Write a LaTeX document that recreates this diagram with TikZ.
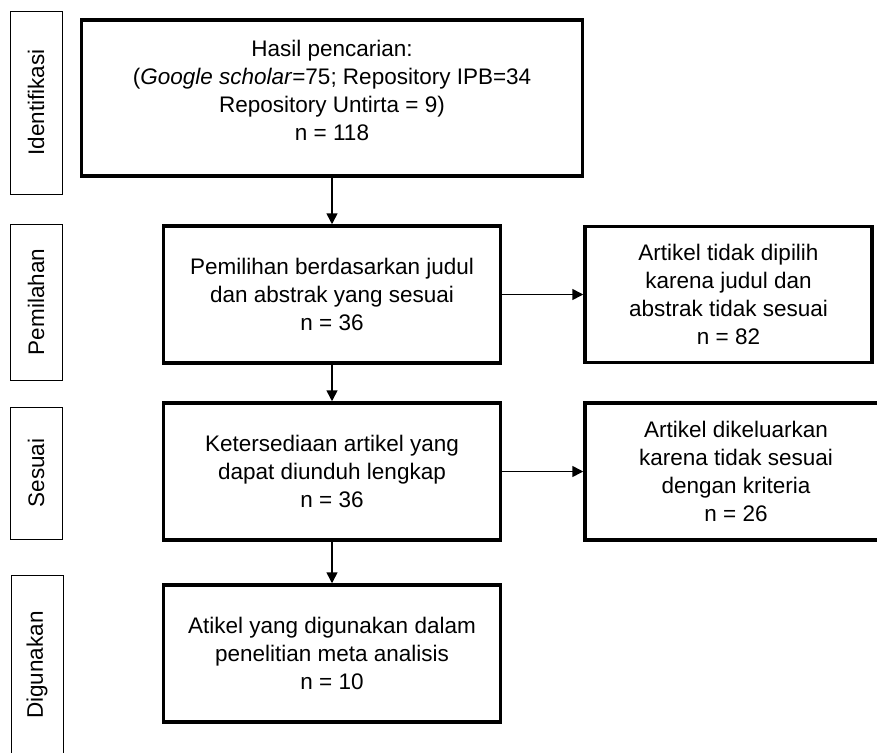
\documentclass[tikz,border=0pt]{standalone}
\usepackage{fontspec}
\setmainfont{Liberation Sans}
\usetikzlibrary{positioning,arrows.meta}

\tikzset{
    txt/.style={font=\fontsize{22.5}{28}\selectfont},
    tahap/.style={draw, line width=0.8pt, rotate=90, txt},
    kotak/.style={draw, line width=3.5pt, align=center, txt},
    panah/.style={-{Triangle[length=11pt,width=11pt]}, line width=1.6pt}
}

\begin{document}
\begin{tikzpicture}[x=1pt,y=-1pt]
    \useasboundingbox (0,0) rectangle (877,752);

    % tahapan
    \node[tahap, minimum width=183pt, minimum height=52pt] (t1) at (36,102.5){Identifikasi};
    \node[tahap, minimum width=156pt, minimum height=52pt] (t2) at (36,302){Pemilahan};
    \node[tahap, minimum width=132pt, minimum height=52pt] (t3) at (36,473){Sesuai};
    \node[tahap, minimum width=180pt, minimum height=52pt] (t4) at (37,665){Digunakan};

    % alur utama
    \node[kotak,
        minimum width=501pt,
        minimum height=156pt
    ] (hasil) at (332,98){Hasil pencarian:\\(\textit{Google scholar}=75; Repository IPB=34\\Repository Untirta = 9)\\n = 118\\[-12pt]};
    \node[kotak,
        minimum width=337pt,
        minimum height=137pt
    ] (pilih) at (332,294.5){Pemilihan berdasarkan judul\\dan abstrak yang sesuai\\n = 36};
    \node[kotak,
        minimum width=337pt,
        minimum height=137pt
    ] (sedia) at (332,471.5){Ketersediaan artikel yang\\dapat diunduh lengkap\\n = 36};
    \node[kotak,
        minimum width=337pt,
        minimum height=137pt
    ] (guna) at (332,653.5){Atikel yang digunakan dalam\\penelitian meta analisis\\n = 10};

    % dikeluarkan
    \node[kotak,
        minimum width=287pt,
        minimum height=136pt
    ] (tolak) at (728.5,294.5){Artikel tidak dipilih\\karena judul dan\\abstrak tidak sesuai\\n = 82};
    \node[kotak,
        minimum width=302pt,
        minimum height=137pt
    ] (keluar) at (736,471.5){Artikel dikeluarkan\\karena tidak sesuai\\dengan kriteria\\n = 26};

    \draw[panah] (hasil.south) -- (pilih.north);
    \draw[panah] (pilih.south) -- (sedia.north);
    \draw[panah] (sedia.south) -- (guna.north);
    \draw[panah] (pilih.east) -- (tolak.west);
    \draw[panah] (sedia.east) -- (keluar.west);
\end{tikzpicture}
\end{document}
